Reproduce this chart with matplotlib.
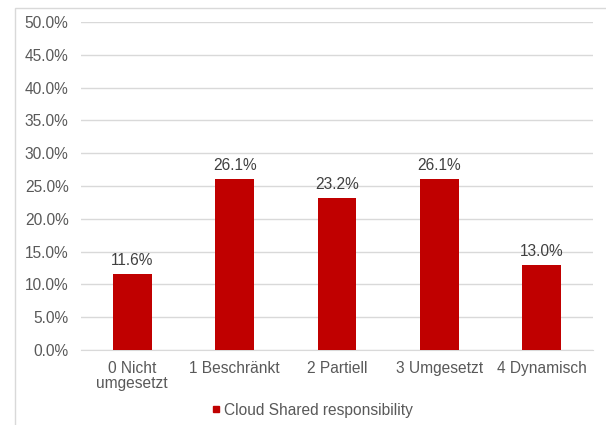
import matplotlib.pyplot as plt
from matplotlib.patches import Rectangle
from matplotlib.lines import Line2D
from matplotlib.ticker import FuncFormatter

plt.rcParams['font.family'] = ['Liberation Sans', 'DejaVu Sans']

categories = ['0 Nicht\numgesetzt', '1 Beschränkt', '2 Partiell', '3 Umgesetzt', '4 Dynamisch']
values = [11.6, 26.1, 23.2, 26.1, 13.0]
series_name = 'Cloud Shared responsibility'

bar_color = '#c00000'
text_color = '#595959'
grid_color = '#d9d9d9'
fs = 11.2

fig = plt.figure(figsize=(6.06, 4.25), dpi=100)
ax = fig.add_axes([81 / 606, 1 - 350 / 425, 512 / 606, 328 / 425])

# outer chart frame (runs off the right and bottom edge)
fig.patches.append(Rectangle((15 / 606, -0.1), 1.2, 1 - 8 / 425 + 0.1,
                             transform=fig.transFigure, fill=False,
                             edgecolor=grid_color, linewidth=1.0))

x = range(len(categories))
bars = ax.bar(x, values, width=0.38, color=bar_color, zorder=3)
for b, v in zip(bars, values):
    ax.text(b.get_x() + b.get_width() / 2, v + 0.9, f'{v:.1f}%',
            ha='center', va='bottom', fontsize=fs, color='#404040')

ax.set_xlim(-0.5, len(categories) - 0.5)
ax.set_ylim(0, 50)
ax.set_yticks([i * 5 for i in range(11)])
ax.yaxis.set_major_formatter(FuncFormatter(lambda v, _: f'{v:.1f}%'))
ax.set_xticks(list(x))
ax.set_xticklabels(categories, linespacing=1.0)
ax.tick_params(axis='both', length=0, labelsize=fs, labelcolor=text_color)
ax.tick_params(axis='y', pad=9)
ax.tick_params(axis='x', pad=8)
ax.yaxis.grid(True, color=grid_color, linewidth=1.0, zorder=0)
for s in ['top', 'right', 'left']:
    ax.spines[s].set_visible(False)
ax.spines['bottom'].set_color(grid_color)

handle = Line2D([], [], marker='s', color=bar_color, linestyle='none', markersize=4.5)
fig.legend([handle], [series_name], loc='center', bbox_to_anchor=(312 / 606, 1 - 410 / 425),
           frameon=False, fontsize=fs, handlelength=0.6, handletextpad=0.25,
           labelcolor=text_color)

fig.savefig('out.png', dpi=100)
